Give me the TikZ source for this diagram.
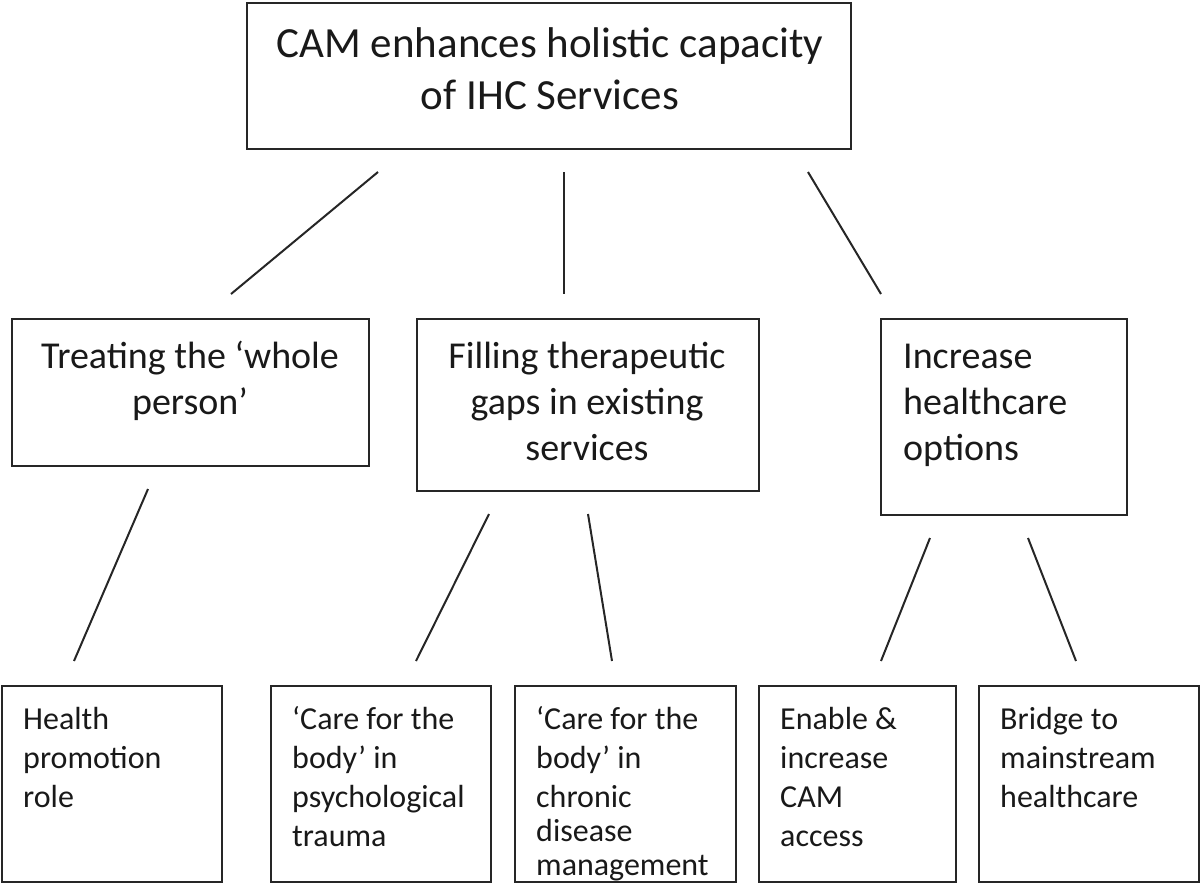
\documentclass[tikz,border=0pt]{standalone}
\usepackage{fontspec}
\setmainfont{Carlito}
\begin{document}
\begin{tikzpicture}[x=1pt,y=-1pt,
  box/.style={draw=black!85, line width=2pt, inner sep=0pt, anchor=north west},
  conn/.style={draw=black!85, line width=2pt},
  ttop/.style={anchor=base, align=center, inner sep=0pt, text=black!90, font=\fontsize{43}{52}\selectfont},
  tmidc/.style={anchor=base, align=center, inner sep=0pt, text=black!90, font=\fontsize{38}{46}\selectfont},
  tmidl/.style={anchor=base west, align=left, inner sep=0pt, text=black!90, font=\fontsize{38}{46}\selectfont},
  tbot/.style={anchor=base west, align=left, inner sep=0pt, text=black!90, font=\fontsize{32}{39.3}\selectfont}]
\useasboundingbox (0,0) rectangle (1200,884);
% boxes
\node[box, minimum width=604, minimum height=146] (top) at (246,2) {};
\node[box, minimum width=357, minimum height=147] (m1) at (11,318) {};
\node[box, minimum width=342, minimum height=172] (m2) at (416,318) {};
\node[box, minimum width=246, minimum height=196] (m3) at (880,318) {};
\node[box, minimum width=220, minimum height=196] (b1) at (1,685) {};
\node[box, minimum width=220, minimum height=196] (b2) at (270,685) {};
\node[box, minimum width=221, minimum height=196] (b3) at (514,685) {};
\node[box, minimum width=197, minimum height=196] (b4) at (758,685) {};
\node[box, minimum width=220, minimum height=196] (b5) at (978,685) {};
% texts (anchored at the baseline of the last line)
\node[ttop] (ttop) at (550,109) {CAM enhances holistic capacity\\of IHC Services};
\node[tmidc] (tm1) at (190,414) {Treating the ‘whole\\person’};
\node[tmidc] (tm2) at (587,460) {Filling therapeutic\\gaps in existing\\services};
\node[tmidl] (tm3) at (903,460) {Increase\\healthcare\\options};
\node[tbot] (tb1) at (23,807.6) {Health\\promotion\\role};
\node[tbot] (tb2) at (292,846.9) {‘Care for the\\body’ in\\psychological\\trauma};
\node[tbot] (tb3) at (536,875.6) {‘Care for the\\body’ in\\chronic\\[-5.3pt]disease\\[-5.3pt]management};
\node[tbot] (tb4) at (780,846.9) {Enable \&\\increase\\CAM\\access};
\node[tbot] (tb5) at (1000,807.6) {Bridge to\\mainstream\\healthcare};
% connector end points
\coordinate (c1a) at (378,172); \coordinate (c1b) at (231,294);
\coordinate (c2a) at (564,172); \coordinate (c2b) at (564,294);
\coordinate (c3a) at (808,172); \coordinate (c3b) at (881,294);
\coordinate (c4a) at (148,489); \coordinate (c4b) at (74,661);
\coordinate (c5a) at (489,514); \coordinate (c5b) at (416,661);
\coordinate (c6a) at (588,514); \coordinate (c6b) at (612,661);
\coordinate (c7a) at (930,538); \coordinate (c7b) at (881,661);
\coordinate (c8a) at (1028,538); \coordinate (c8b) at (1076,661);
\draw[conn] (c1a) -- (c1b);
\draw[conn] (c2a) -- (c2b);
\draw[conn] (c3a) -- (c3b);
\draw[conn] (c4a) -- (c4b);
\draw[conn] (c5a) -- (c5b);
\draw[conn] (c6a) -- (c6b);
\draw[conn] (c7a) -- (c7b);
\draw[conn] (c8a) -- (c8b);
\end{tikzpicture}
\end{document}
